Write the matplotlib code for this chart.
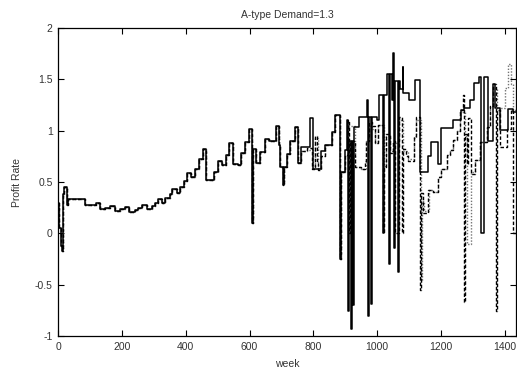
import matplotlib
matplotlib.use('Agg')
import matplotlib.pyplot as plt
from matplotlib.ticker import FuncFormatter

# shared early part of all runs (week, profit rate), step changes
trunk_weeks = [0, 4, 8, 12, 15, 19, 27, 30, 84, 120, 131, 146, 162, 177, 195, 210, 222, 240,
               251, 263, 277, 293, 303, 314, 324, 334, 350, 358, 371, 381, 393, 403, 416, 430,
               443, 453, 464, 490, 500, 514, 527, 537, 548, 564, 574, 585, 599, 609, 612, 621,
               634, 648, 660, 682, 692, 695, 704, 707, 716, 728, 741, 752]
trunk_values = [0.30, 0.05, -0.12, -0.17, 0.38, 0.45, 0.28, 0.33, 0.28, 0.30, 0.235, 0.25, 0.27,
                0.215, 0.24, 0.26, 0.205, 0.232, 0.25, 0.275, 0.235, 0.265, 0.297, 0.33, 0.30,
                0.34, 0.38, 0.43, 0.39, 0.45, 0.51, 0.59, 0.55, 0.63, 0.72, 0.82, 0.52, 0.60,
                0.70, 0.665, 0.76, 0.88, 0.68, 0.665, 0.78, 0.89, 1.02, 0.10, 0.82, 0.69, 0.795,
                0.915, 0.90, 1.045, 0.86, 0.65, 0.47, 0.65, 0.77, 0.90, 1.04, 0.69]

# run A (solid)
a_weeks = [762, 789, 800, 825, 836, 857, 867, 884, 887, 899, 904, 910, 913, 918, 921, 924, 927,
           942, 969, 972, 975, 982, 985, 1000, 1005, 1019, 1022, 1030, 1036, 1039, 1045, 1050,
           1054, 1057, 1065, 1068, 1072, 1080, 1082, 1100, 1118, 1134, 1160, 1170, 1191, 1201,
           1238, 1262, 1272, 1290, 1305, 1320, 1325, 1334, 1348, 1362, 1370, 1385, 1410, 1425,
           1435]
a_values = [0.84, 1.12, 0.63, 0.80, 0.86, 0.99, 1.15, -0.25, 0.60, 0.81, 1.10, -0.76, 0.90,
            -0.93, 0.90, -0.70, 1.04, 1.13, 1.30, -0.80, 1.13, -0.69, 1.13, 1.10, 1.35, 0.0,
            1.35, 1.55, -0.30, 1.55, 1.30, 1.76, -0.14, 1.48, -0.38, 1.48, 1.41, 1.62, 1.37,
            1.30, 1.49, 0.60, 0.75, 0.89, 0.68, 1.03, 1.10, 1.20, 1.22, 1.30, 1.46, 1.52, 0.0,
            1.52, 0.90, 1.45, 1.22, 1.01, 1.21, 1.18, 1.18]

# run B (dashed)
b_weeks = [762, 780, 795, 805, 810, 815, 825, 836, 857, 867, 884, 887, 899, 908, 911, 914, 930,
           950, 961, 966, 975, 985, 993, 1003, 1019, 1021, 1029, 1040, 1048, 1056,
           1067, 1077, 1080, 1082, 1090, 1098, 1115, 1123, 1133, 1136, 1144, 1160, 1175, 1191,
           1201, 1218, 1228, 1238, 1249, 1259, 1269, 1271, 1274, 1281, 1285, 1295, 1306, 1322,
           1343, 1354, 1364, 1371, 1374, 1385, 1406, 1421, 1426, 1435]
b_values = [0.80, 0.83, 0.63, 0.95, 0.70, 0.62, 0.75, 0.86, 0.99, 1.15, -0.25, 0.60, 0.76, 1.10,
            0.0, 0.90, 0.65, 0.63, 0.70, 0.90, 1.08, 1.05, 0.88, 1.06, 0.0, 0.65,
            0.97, 0.78, 0.90, 0.0, 1.13, 0.0, 0.68, 0.82, 0.75, 0.70, 0.95, 1.13, -0.55, 0.39,
            0.20, 0.42, 0.40, 0.55, 0.63, 0.76, 0.81, 0.91, 1.00, 1.20, 1.35, -0.67, 0.97, 0.68,
            1.12, 0.58, 0.71, 0.89, 1.04, 1.24, 1.45, -0.76, 1.20, 0.84, 1.02, 1.20, 0.0, 0.0]

# run C (dotted)
c_weeks = [762, 780, 798, 806, 815, 825, 836, 857, 867, 884, 887, 899, 908, 930, 950, 966, 975,
           985, 993, 1003, 1021, 1029, 1040, 1048, 1067, 1082, 1098, 1115, 1123, 1136, 1139,
           1148, 1162, 1175, 1191, 1201, 1218, 1228, 1238, 1249, 1259, 1274, 1283, 1295, 1306,
           1322, 1343, 1354, 1364, 1376, 1385, 1400, 1410, 1421, 1427, 1435]
c_values = [0.80, 0.81, 0.66, 0.93, 0.64, 0.75, 0.86, 0.99, 1.15, -0.25, 0.60, 0.76, 1.05, 0.65,
            0.63, 0.90, 1.05, 1.02, 0.88, 1.06, 0.66, 0.95, 0.80, 0.88, 1.10, 0.80, 0.72, 0.93,
            1.10, -0.45, 0.32, 0.22, 0.42, 0.40, 0.55, 0.63, 0.76, 0.81, 0.91, 1.00, 1.18, 0.95,
            -0.10, 0.60, 0.71, 0.89, 1.04, 1.24, 1.42, 1.15, 1.22, 1.42, 1.65, 1.45, 1.20, 1.20]

plt.rcParams['font.family'] = ['Liberation Sans', 'DejaVu Sans']

fig = plt.figure(figsize=(5.17, 3.73), dpi=100)
ax = fig.add_axes([0.1125, 0.099, 0.8855, 0.826])

ax.step(trunk_weeks + c_weeks, trunk_values + c_values, where='post',
        color='0.45', lw=1.0, linestyle=(0, (1, 1.2)))
ax.step(trunk_weeks + b_weeks, trunk_values + b_values, where='post',
        color='k', lw=1.0, linestyle=(0, (2.5, 1.5)))
ax.step(trunk_weeks + a_weeks, trunk_values + a_values, where='post',
        color='k', lw=1.1)

ax.set_xlim(0, 1435)
ax.set_ylim(-1, 2)
ax.set_xticks([0, 200, 400, 600, 800, 1000, 1200, 1400])
ax.set_yticks([-1, -0.5, 0, 0.5, 1, 1.5, 2])
ax.yaxis.set_major_formatter(FuncFormatter(lambda v, p: ('%g' % v)))
ax.tick_params(direction='in', length=4, width=0.8, labelsize=7.5, top=True, right=True,
               colors='k', labelcolor='#333333', pad=4)
for s in ax.spines.values():
    s.set_linewidth(0.9)

ax.set_title('A-type Demand=1.3', fontsize=7.5, color='#333333', pad=7)
ax.set_xlabel('week', fontsize=7.5, color='#333333', labelpad=5)
ax.set_ylabel('Profit Rate', fontsize=7.5, color='#333333', labelpad=9)

fig.savefig('out.png', dpi=100)
